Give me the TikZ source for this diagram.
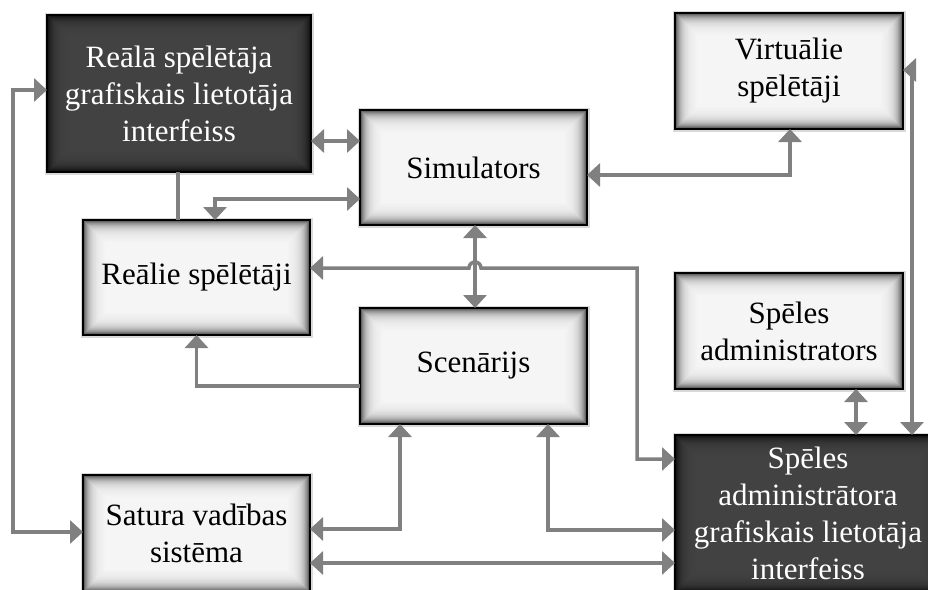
\documentclass[tikz,border=0pt]{standalone}
\usepackage{fontspec}
\setmainfont{Liberation Serif}
\usetikzlibrary{arrows.meta}

\definecolor{linkgray}{RGB}{128,128,128}
\colorlet{lightedge}{black!78}
\colorlet{lightfill}{black!4}
\colorlet{darkedge}{black!97}
\colorlet{darkfill}{black!74}

% inner glow: thin nested rings fading from the edge colour to the fill colour
\newcommand\glowrings[2]{%
  \foreach \d in {0.5,1.5,...,21.5}{%
    \pgfmathtruncatemacro\p{100*exp(-\d/5.5)}%
    \draw[line width=1.1pt, draw=#1!\p!#2]
      ([shift={(\d pt,\d pt)}]path picture bounding box.south west) rectangle
      ([shift={(-\d pt,-\d pt)}]path picture bounding box.north east);
  }%
}

\begin{document}
\begin{tikzpicture}[x=1pt,y=-1pt,
  tip/.tip={Triangle[length=13pt,width=23pt]},
  conn/.style={draw=linkgray, line width=3.5pt},
  dbl/.style={conn, tip-tip},
  one/.style={conn, -tip},
  box/.style={rectangle, line width=1.6pt, draw=black, inner sep=0pt, outer sep=0pt,
    align=center, font=\fontsize{31}{37}\selectfont,
    preaction={draw=black!15, line width=5pt}},
  lightbox/.style={box, fill=lightfill, text=black,
    path picture={\glowrings{lightedge}{lightfill}},
    minimum width=227pt, minimum height=115pt},
  darkbox/.style={box, fill=darkfill, text=white,
    path picture={\glowrings{darkedge}{darkfill}},
    minimum width=264pt, minimum height=157pt},
]
\useasboundingbox (0,0) rectangle (928,589);
\clip (0,0) rectangle (928,589);

% components
\node[darkbox]  (realgui) at (179,93.5)  {Reālā spēlētāja\\grafiskais lietotāja\\interfeiss};
\node[lightbox] (sim)     at (473.5,167.5) {Simulators};
\node[lightbox, minimum width=228pt, minimum height=116pt] (virt) at (789,71) {Virtuālie\\spēlētāji};
\node[lightbox] (real)    at (196.5,277.5) {Reālie spēlētāji};
\node[lightbox, minimum height=116pt] (scen) at (473.5,366) {Scenārijs};
\node[lightbox, minimum width=228pt, minimum height=116pt] (adm) at (789,331) {Spēles\\administrators};
\node[darkbox, minimum width=266pt] (admgui) at (808,513.5) {Spēles\\administrātora\\grafiskais lietotāja\\interfeiss};
\node[lightbox, minimum height=117pt] (cms) at (196.5,533.5) {Satura vadības\\sistēma};

% links
\draw[dbl] (realgui.east |- 0,141) -- (sim.west |- 0,141);
\draw[conn] (realgui.south -| 178,0) -- (real.north -| 178,0);
\draw[dbl] (sim.west |- 0,199) -| (real.north -| 215,0);
\draw[dbl] (sim.east |- 0,175) -| (virt.south -| 790,0);
\draw[dbl] (sim.south -| 475,0) -- (scen.north -| 475,0);
\draw[dbl] (real.east |- 0,268) -- (469,268)
  arc[start angle=180, end angle=0, radius=6pt] -- (637,268)
  |- (admgui.west |- 0,459);
\draw[one] (scen.west |- 0,386) -| (real.south);
\draw[dbl] (scen.south -| 400,0) |- (cms.east |- 0,529);
\draw[dbl] (cms.east |- 0,563) -- (admgui.west |- 0,563);
\draw[dbl] (scen.south -| 548,0) |- (admgui.west |- 0,530);
\draw[dbl] (adm.south -| 856,0) -- (admgui.north -| 856,0);
\draw[dbl] (virt.east |- 0,70) -| (admgui.north -| 912,0);
\draw[dbl] (realgui.west |- 0,90) -- (13,90) |- (cms.west |- 0,532);
\end{tikzpicture}
\end{document}
